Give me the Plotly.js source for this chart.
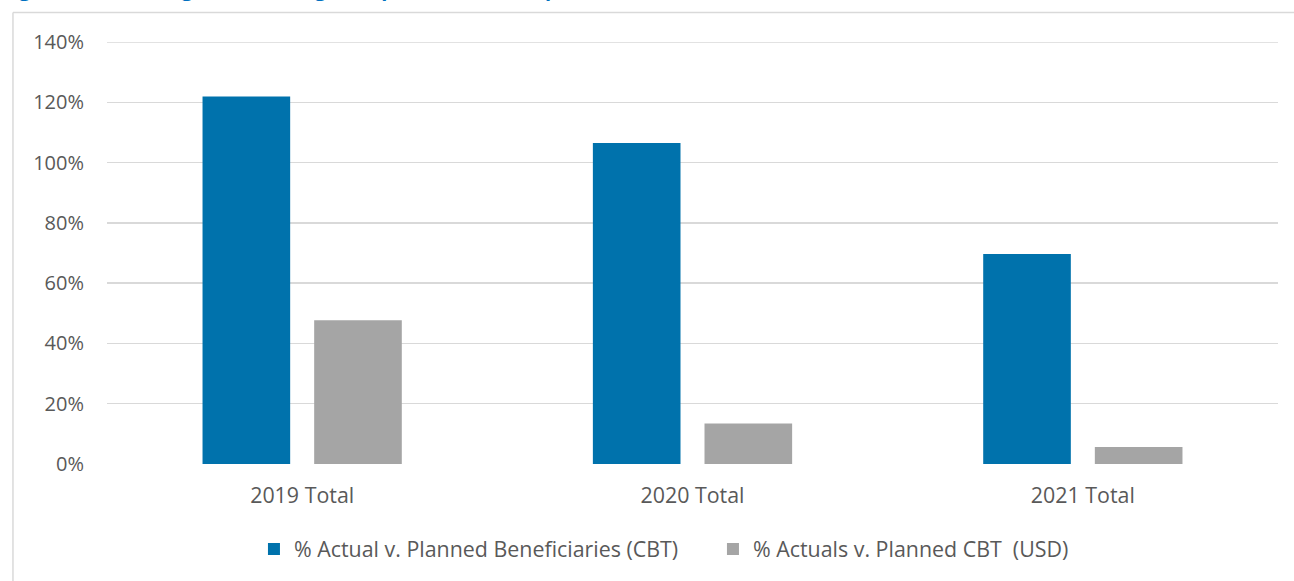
<!DOCTYPE html>
<html>
<head>
<meta charset="utf-8">
<script src="https://cdn.plot.ly/plotly-3.0.1.min.js"></script>
<style>
html,body{margin:0;padding:0;background:#fff;}
#chart{width:1294px;height:581px;}
</style>
</head>
<body>
<div id="chart"></div>
<script>
// Data
const categories = ["2019 Total", "2020 Total", "2021 Total"];
const beneficiariesPct = [121.9, 106.5, 69.7];   // % Actual v. Planned Beneficiaries (CBT)
const cbtUsdPct = [47.7, 13.4, 5.6];             // % Actuals v. Planned CBT (USD)
const seriesNames = ["% Actual v. Planned Beneficiaries (CBT)", "% Actuals v. Planned CBT\u00a0 (USD)"];
const yTickVals = [0, 20, 40, 60, 80, 100, 120, 140];
const yTickText = ["0%", "20%", "40%", "60%", "80%", "100%", "120%", "140%"];
const yMax = 140;
const titleText = "Figure 6: Percentage of actual against planned CBT outputs, 2019–2021";

const textColor = "#595959";
const gridColor = "#D9D9D9";

const traces = [
  {
    type: "bar",
    name: seriesNames[0],
    x: categories,
    y: beneficiariesPct,
    marker: {color: "#0072AC"},
    hoverinfo: "skip"
  },
  {
    type: "bar",
    name: seriesNames[1],
    x: categories,
    y: cbtUsdPct,
    marker: {color: "#A5A5A5"},
    hoverinfo: "skip"
  }
];

const layout = {
  width: 1294,
  height: 581,
  margin: {l: 107, r: 16, t: 42, b: 117, pad: 0},
  paper_bgcolor: "#FFFFFF",
  plot_bgcolor: "#FFFFFF",
  font: {family: "'Open Sans', sans-serif", size: 20, color: textColor},
  barmode: "group",
  bargap: 0.428,
  bargroupgap: 0.215,
  showlegend: true,
  legend: {
    orientation: "h",
    x: 0.1255,
    xanchor: "left",
    y: -0.2014,
    yanchor: "middle",
    entrywidth: 414,
    entrywidthmode: "pixels",
    font: {family: "'Open Sans', sans-serif", size: 21.4, color: textColor},
    traceorder: "normal",
    itemclick: false,
    itemdoubleclick: false
  },
  xaxis: {
    type: "category",
    showgrid: false,
    showline: false,
    zeroline: false,
    ticks: "",
    ticklabelstandoff: 17,
    tickfont: {family: "'Open Sans', sans-serif", size: 21.4, color: textColor},
    fixedrange: true
  },
  yaxis: {
    range: [0, yMax],
    tickvals: yTickVals,
    ticktext: yTickText,
    showgrid: true,
    gridcolor: gridColor,
    gridwidth: 1.5,
    zeroline: false,
    showline: false,
    ticks: "",
    ticklabelstandoff: 22,
    tickfont: {family: "'Open Sans', sans-serif", size: 20, color: textColor},
    fixedrange: true
  },
  shapes: [
    {
      type: "line", xref: "paper", yref: "y",
      x0: 0, x1: 1, y0: yMax, y1: yMax,
      line: {color: gridColor, width: 1.5},
      layer: "below"
    },
    {
      type: "line", xref: "paper", yref: "paper",
      x0: -0.0803, x1: 1.2, y0: 1.0699, y1: 1.0699,
      line: {color: gridColor, width: 1.5}
    },
    {
      type: "line", xref: "paper", yref: "paper",
      x0: -0.0803, x1: -0.0803, y0: 1.0699, y1: -0.4,
      line: {color: gridColor, width: 1.5}
    }
  ],
  annotations: [
    {
      text: "<b>" + titleText + "</b>",
      xref: "paper", yref: "paper",
      x: -0.0914, xanchor: "left",
      y: 1.0895, yanchor: "bottom",
      showarrow: false,
      font: {family: "'Open Sans', sans-serif", size: 20, color: "#0070C0"}
    }
  ]
};

Plotly.newPlot("chart", traces, layout, {displayModeBar: false, staticPlot: true});
</script>
</body>
</html>
